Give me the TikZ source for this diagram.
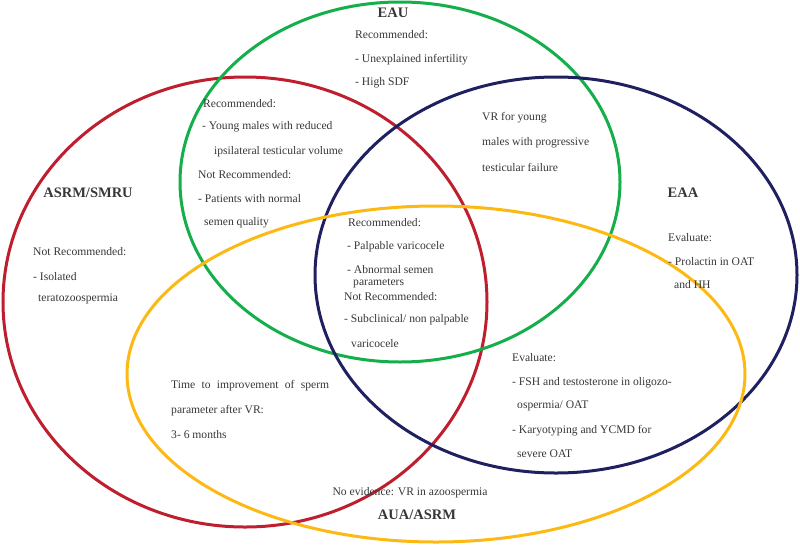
\documentclass[tikz,border=0pt]{standalone}
\usepackage{fontspec}
\setmainfont{Liberation Serif}
\definecolor{cred}{RGB}{190,30,45}
\definecolor{cgreen}{RGB}{20,175,75}
\definecolor{cnavy}{RGB}{30,32,95}
\definecolor{cyellow}{RGB}{252,185,20}
\definecolor{ctext}{RGB}{55,55,55}
\tikzset{
  ring/.style={line width=3pt},
  lbl/.style={anchor=west,inner sep=0pt,text=ctext,font=\fontsize{11.6}{13}\selectfont},
  ttl/.style={anchor=center,inner sep=0pt,text=ctext,font=\fontsize{14.5}{16}\selectfont\bfseries},
}
\begin{document}
\begin{tikzpicture}[x=1pt,y=-1pt]
\useasboundingbox (0,0) rectangle (800,544);
\draw[ring,cred] (245,302) ellipse [x radius=242,y radius=225];
\draw[ring,cgreen] (400,182) ellipse [x radius=220,y radius=180];
\draw[ring,cnavy] (556,275) ellipse [x radius=241,y radius=198];
\draw[ring,cyellow] (436,374) ellipse [x radius=309,y radius=168];

% EAU
\node[ttl] (eau) at (393,13) {EAU};
\node[lbl] (eau1) at (355,35) {Recommended:};
\node[lbl] (eau2) at (355,60) {- Unexplained infertility};
\node[lbl] (eau3) at (355,83) {- High SDF};

% EAU / ASRM
\node[lbl] (g1) at (203,104) {Recommended:};
\node[lbl] (g2) at (202,127) {- Young males with reduced};
\node[lbl] (g3) at (214,152) {ipsilateral testicular volume};
\node[lbl] (g4) at (198,175) {Not Recommended:};
\node[lbl] (g5) at (198,199) {- Patients with normal};
\node[lbl] (g6) at (204,223) {semen quality};

% EAU / EAA
\node[lbl] (v1) at (482,118) {VR for young};
\node[lbl] (v2) at (482,143) {males with progressive};
\node[lbl] (v3) at (482,167) {testicular failure};

% ASRM/SMRU
\node[ttl] (asrm) at (88,193) {ASRM/SMRU};
\node[lbl] (a1) at (33,252) {Not Recommended:};
\node[lbl] (a2) at (33,277) {- Isolated};
\node[lbl] (a3) at (38,299) {teratozoospermia};

% center
\node[lbl] (c1) at (348,223) {Recommended:};
\node[lbl] (c2) at (347,247) {- Palpable varicocele};
\node[lbl] (c3) at (347,270) {- Abnormal semen};
\node[lbl] (c4) at (353,283) {parameters};
\node[lbl] (c5) at (344,297) {Not Recommended:};
\node[lbl] (c6) at (344,320) {- Subclinical/ non palpable};
\node[lbl] (c7) at (351,344) {varicocele};

% EAA
\node[ttl] (eaa) at (683,193) {EAA};
\node[lbl] (e1) at (668,238) {Evaluate:};
\node[lbl] (e2) at (668,262) {- Prolactin in OAT};
\node[lbl] (e3) at (674,285) {and HH};

% ASRM / AUA
\node[lbl] (t1) at (171,386) {\makebox[158pt][s]{Time to improvement of sperm}};
\node[lbl] (t2) at (171,411) {parameter after VR:};
\node[lbl] (t3) at (171,435) {3- 6 months};

% EAA / AUA
\node[lbl] (f1) at (512,358) {Evaluate:};
\node[lbl] (f2) at (512,383) {- FSH and testosterone in oligozo-};
\node[lbl] (f3) at (517,406) {ospermia/ OAT};
\node[lbl] (f4) at (512,431) {- Karyotyping and YCMD for};
\node[lbl] (f5) at (517,454) {severe OAT};

% AUA/ASRM
\node[lbl,anchor=center] (n1) at (410,493) {No evidence: VR in azoospermia};
\node[ttl] (aua) at (417,515) {AUA/ASRM};
\end{tikzpicture}
\end{document}
